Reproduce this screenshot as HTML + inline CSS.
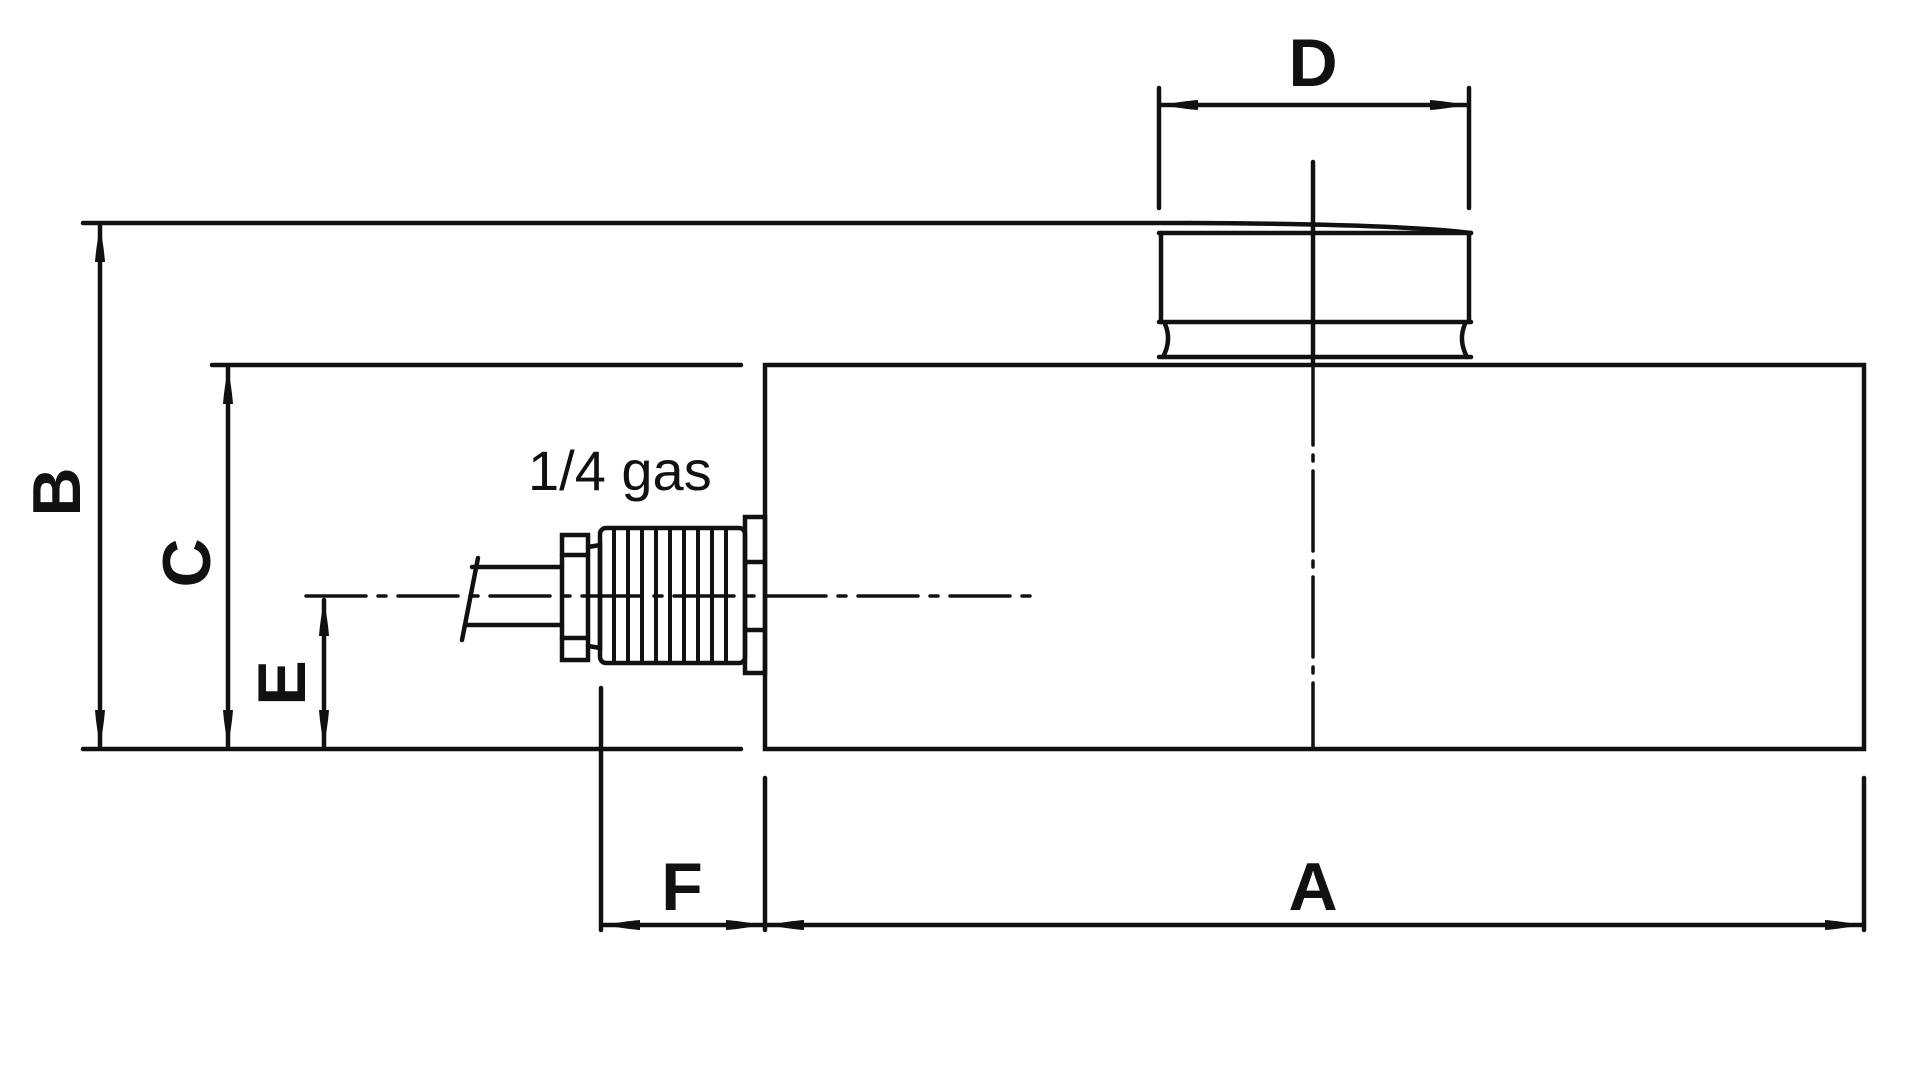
<!DOCTYPE html>
<html><head><meta charset="utf-8"><style>html,body{margin:0;padding:0;background:#fff}svg{display:block}</style></head>
<body>
<svg width="1920" height="1080" viewBox="0 0 1920 1080" xmlns="http://www.w3.org/2000/svg">
<defs>
<marker id="ar" viewBox="0 0 36 14" refX="36" refY="7" markerWidth="36" markerHeight="14" markerUnits="userSpaceOnUse" orient="auto-start-reverse">
<path d="M0,2 Q14,3 36,7 Q14,11 0,12 Q-3,7 0,2 Z" fill="#111"/>
</marker>
</defs>
<g stroke="#111" stroke-width="4.5" fill="none" stroke-linecap="round">
<line x1="83" y1="223" x2="1190" y2="223"/>
<path d="M1190,223 Q1400,224 1471,233"/>
<rect x="765" y="365" width="1099" height="384"/>
<line x1="212" y1="365" x2="741" y2="365"/>
<line x1="83" y1="749" x2="741" y2="749"/>
<line x1="100" y1="226" x2="100" y2="746" marker-start="url(#ar)" marker-end="url(#ar)"/>
<line x1="228" y1="368" x2="228" y2="746" marker-start="url(#ar)" marker-end="url(#ar)"/>
<line x1="324" y1="600" x2="324" y2="746" marker-start="url(#ar)" marker-end="url(#ar)"/>
<line x1="1159" y1="233" x2="1471" y2="233"/>
<line x1="1161" y1="233" x2="1161" y2="322"/>
<line x1="1469" y1="233" x2="1469" y2="322"/>
<line x1="1159" y1="322" x2="1471" y2="322"/>
<path d="M1165,324 Q1172,340 1163,357"/>
<path d="M1465,324 Q1458,340 1467,357"/>
<line x1="1159" y1="357" x2="1471" y2="357"/>
<line x1="1159" y1="88" x2="1159" y2="208"/>
<line x1="1469" y1="88" x2="1469" y2="208"/>
<line x1="1162" y1="105" x2="1466" y2="105" marker-start="url(#ar)" marker-end="url(#ar)"/>
<line x1="1313" y1="162" x2="1313" y2="365"/>
<line x1="1313" y1="365" x2="1313" y2="749" stroke-width="3.5" stroke-dasharray="80 10 6 10"/>
<line x1="765" y1="778" x2="765" y2="930"/>
<line x1="1864" y1="778" x2="1864" y2="930"/>
<line x1="768" y1="925" x2="1861" y2="925" marker-start="url(#ar)" marker-end="url(#ar)"/>
<line x1="601" y1="688" x2="601" y2="930"/>
<line x1="604" y1="925" x2="762" y2="925" marker-start="url(#ar)" marker-end="url(#ar)"/>
<line x1="306" y1="596" x2="1034" y2="596" stroke-width="3.5" stroke-dasharray="60 12 8 12"/>
<line x1="478" y1="558" x2="462" y2="640"/>
<line x1="472" y1="567" x2="562" y2="567"/>
<line x1="465" y1="625" x2="562" y2="625"/>
<rect x="562" y="535" width="26" height="125"/>
<line x1="562" y1="555" x2="588" y2="555"/>
<line x1="562" y1="638" x2="588" y2="638"/>
<path d="M588,547 L600,545 L600,648 L588,646"/>
<rect x="600" y="528" width="145" height="135" rx="6"/>
<g stroke-width="4">
<line x1="614" y1="530" x2="614" y2="661"/>
<line x1="628" y1="530" x2="628" y2="661"/>
<line x1="642" y1="530" x2="642" y2="661"/>
<line x1="656" y1="530" x2="656" y2="661"/>
<line x1="670" y1="530" x2="670" y2="661"/>
<line x1="684" y1="530" x2="684" y2="661"/>
<line x1="698" y1="530" x2="698" y2="661"/>
<line x1="712" y1="530" x2="712" y2="661"/>
<line x1="726" y1="530" x2="726" y2="661"/>
</g>
<rect x="745" y="517" width="20" height="156"/>
<line x1="745" y1="562" x2="765" y2="562"/>
<line x1="745" y1="630" x2="765" y2="630"/>
</g>
<g font-family="Liberation Sans, sans-serif" fill="#111" font-weight="bold">
<text x="1313" y="86" font-size="68" text-anchor="middle">D</text>
<text x="1313" y="910" font-size="68" text-anchor="middle">A</text>
<text x="682" y="910" font-size="68" text-anchor="middle">F</text>
<text x="528" y="490" font-size="56" font-weight="normal">1/4 gas</text>
<text transform="translate(80,492) rotate(-90)" font-size="68" text-anchor="middle">B</text>
<text transform="translate(210,563) rotate(-90)" font-size="68" text-anchor="middle">C</text>
<text transform="translate(305,683) rotate(-90)" font-size="68" text-anchor="middle">E</text>
</g>
</svg>
</body></html>
